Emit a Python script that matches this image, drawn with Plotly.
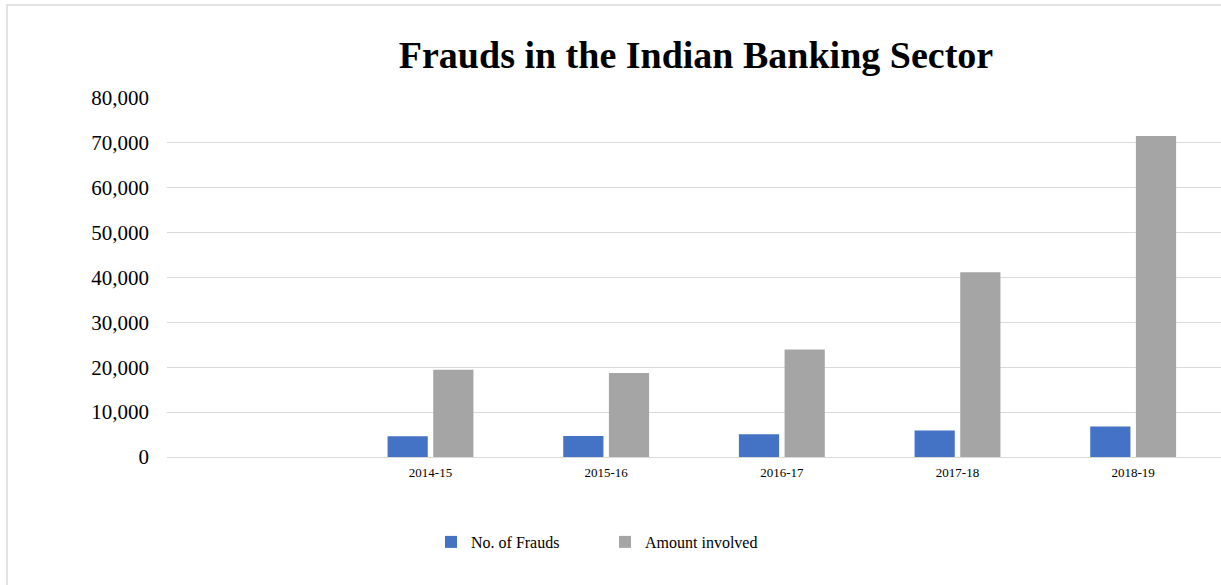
import plotly.graph_objects as go

years = ["2014-15", "2015-16", "2016-17", "2017-18", "2018-19"]
no_of_frauds = [4639, 4693, 5076, 5916, 6801]
amount_involved = [19455, 18699, 23934, 41167, 71543]

BLUE = "#4472C4"
GRAY = "#A5A5A5"
GRID = "#D9D9D9"
FONT = "Liberation Serif"

W, H = 1221, 585
L, R, T, B = 167, 0, 98, 128
PW, PH = W - L - R, H - T - B

fig = go.Figure()
fig.add_trace(go.Bar(x=years, y=no_of_frauds, name="No. of Frauds",
                     marker=dict(color=BLUE, line=dict(width=0))))
fig.add_trace(go.Bar(x=years, y=amount_involved, name="Amount involved",
                     marker=dict(color=GRAY, line=dict(width=0))))

fig.update_layout(
    width=W, height=H,
    margin=dict(l=L, r=R, t=T, b=B, pad=0),
    paper_bgcolor="white", plot_bgcolor="white",
    barmode="group", bargap=0.48, bargroupgap=0.12,
    font=dict(family=FONT, color="black"),
    title=dict(text="<b>Frauds in the Indian Banking Sector</b>",
               font=dict(family=FONT, size=38, color="black"),
               x=(696 - L) / PW, xref="paper", xanchor="center",
               y=1 - 55 / H, yref="container", yanchor="middle"),
    showlegend=True,
    legend=dict(orientation="h", xref="container", yref="container",
                x=431 / W, xanchor="left", y=1 - 542 / H, yanchor="middle",
                font=dict(family=FONT, size=16, color="black"),
                entrywidth=129, entrywidthmode="pixels",
                bgcolor="rgba(0,0,0,0)", traceorder="normal"),
    xaxis=dict(type="category", categoryorder="array", categoryarray=years,
               range=[-1.5, 4.5], showgrid=False, showline=False, ticks="",
               tickfont=dict(family=FONT, size=13, color="black"),
               ticklabelstandoff=6, fixedrange=True),
    yaxis=dict(range=[0, 80000], dtick=10000, tickformat=",d",
               showgrid=True, gridcolor=GRID, gridwidth=1.3,
               zeroline=True, zerolinecolor=GRID, zerolinewidth=1.3,
               showline=False, ticks="",
               tickfont=dict(family=FONT, size=21, color="black"),
               ticklabelstandoff=17, fixedrange=True),
    shapes=[dict(type="rect", xref="paper", yref="paper",
                 x0=(7 - L) / PW, x1=1.2,
                 y0=-0.6, y1=(H - B - 5) / PH,
                 line=dict(color=GRID, width=1.5), fillcolor="rgba(0,0,0,0)",
                 layer="below")],
)

fig.write_html("out.html",
               config={"displayModeBar": False},
               post_script="document.body.style.margin='0';"
                           "document.body.style.overflow='hidden';")
